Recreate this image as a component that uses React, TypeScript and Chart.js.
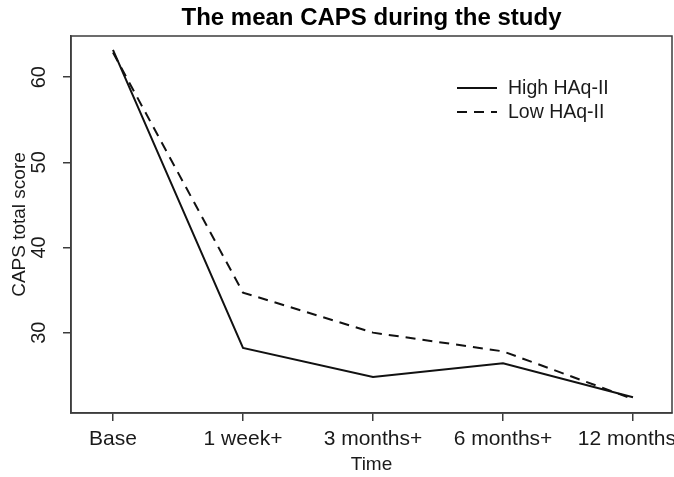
import { useEffect, useRef } from "react";
import { Chart, registerables } from "chart.js";

Chart.register(...registerables);

const categories = ["Base", "1 week+", "3 months+", "6 months+", "12 months+"];
const highValues = [63.2, 28.2, 24.8, 26.4, 22.4];
const lowValues = [62.9, 34.7, 30.0, 27.8, 22.2];
const yTicks = [30, 40, 50, 60];
const seriesNames = ["High HAq-II", "Low HAq-II"];

const FONT = "'Liberation Sans', Arial, Helvetica, sans-serif";

export default function App() {
  const ref = useRef<HTMLCanvasElement>(null);

  useEffect(() => {
    document.body.style.margin = "0";
    const canvas = ref.current;
    if (!canvas) return;

    const all = [...highValues, ...lowValues];
    const dMin = Math.min(...all);
    const dMax = Math.max(...all);
    const ext = (dMax - dMin) * 0.04;

    const boxPlugin = {
      id: "rbox",
      afterDraw(chart: any) {
        const { ctx, chartArea: a } = chart;
        ctx.save();
        ctx.strokeStyle = "#3c3c3c";
        ctx.lineWidth = 1.5;
        ctx.strokeRect(a.left, a.top, a.right - a.left, a.bottom - a.top);
        ctx.restore();
      },
    };

    const legendPlugin = {
      id: "rlegend",
      afterDatasetsDraw(chart: any) {
        const { ctx, chartArea: a } = chart;
        ctx.save();
        chart.data.datasets.forEach((ds: any, i: number) => {
          const y = a.top + 52 + i * 24;
          const x0 = a.left + 386;
          ctx.beginPath();
          ctx.setLineDash(ds.borderDash || []);
          ctx.lineWidth = ds.borderWidth;
          ctx.strokeStyle = ds.borderColor;
          ctx.moveTo(x0, y);
          ctx.lineTo(x0 + 40, y);
          ctx.stroke();
          ctx.setLineDash([]);
          ctx.fillStyle = "#1a1a1a";
          ctx.font = `19.5px ${FONT}`;
          ctx.textBaseline = "middle";
          ctx.textAlign = "left";
          ctx.fillText(ds.label, x0 + 51, y + 1);
        });
        ctx.restore();
      },
    };

    const chart = new Chart(canvas, {
      type: "line",
      data: {
        datasets: [
          {
            label: seriesNames[0],
            data: highValues.map((v, i) => ({ x: i, y: v })),
            borderColor: "#111111",
            borderWidth: 2,
            pointRadius: 0,
            fill: false,
            tension: 0,
          },
          {
            label: seriesNames[1],
            data: lowValues.map((v, i) => ({ x: i, y: v })),
            borderColor: "#111111",
            borderWidth: 2,
            borderDash: [10, 7],
            pointRadius: 0,
            fill: false,
            tension: 0,
          },
        ],
      },
      plugins: [boxPlugin, legendPlugin],
      options: {
        responsive: false,
        animation: false,
        layout: { padding: { left: 0, right: 2, top: 0, bottom: 0 } },
        plugins: {
          legend: { display: false },
          tooltip: { enabled: false },
          title: {
            display: true,
            fullSize: false,
            text: "The mean CAPS during the study",
            color: "#000",
            font: { family: FONT, size: 24, weight: "bold" },
            padding: { top: 3.5, bottom: 3.7 },
          },
        },
        scales: {
          x: {
            type: "linear",
            min: -0.323,
            max: 4.3,
            afterBuildTicks: (s: any) => {
              s.ticks = categories.map((_, i) => ({ value: i }));
            },
            afterFit: (s: any) => {
              s.height = 64;
              s.paddingLeft = 0;
              s.paddingRight = 0;
            },
            ticks: {
              autoSkip: false,
              maxRotation: 0,
              minRotation: 0,
              padding: 6,
              color: "#1a1a1a",
              font: { family: FONT, size: 21 },
              callback: (v: any) => categories[v] ?? "",
            },
            grid: {
              drawOnChartArea: false,
              drawTicks: true,
              tickLength: 8,
              color: "#3c3c3c",
              lineWidth: 1.5,
            },
            border: { display: true, color: "#3c3c3c", width: 1.5 },
            title: {
              display: true,
              text: "Time",
              color: "#1a1a1a",
              font: { family: FONT, size: 19 },
              padding: { top: 2, bottom: 1 },
            },
          },
          y: {
            type: "linear",
            min: dMin - ext,
            max: dMax + ext,
            afterBuildTicks: (s: any) => {
              s.ticks = yTicks.map((v) => ({ value: v }));
            },
            afterFit: (s: any) => {
              s.width = 71;
            },
            ticks: {
              minRotation: 90,
              maxRotation: 90,
              crossAlign: "center",
              padding: 12,
              color: "#1a1a1a",
              font: { family: FONT, size: 20 },
            },
            grid: {
              drawOnChartArea: false,
              drawTicks: true,
              tickLength: 8,
              color: "#3c3c3c",
              lineWidth: 1.5,
            },
            border: { display: true, color: "#3c3c3c", width: 1.5 },
            title: {
              display: true,
              text: "CAPS total score",
              color: "#1a1a1a",
              font: { family: FONT, size: 19 },
              padding: { top: 8, bottom: 2 },
            },
          },
        },
      },
    } as any);

    return () => chart.destroy();
  }, []);

  return (
    <div style={{ position: "absolute", left: 0, top: 0, width: 674, height: 477 }}>
      <canvas ref={ref} width={674} height={477} style={{ width: 674, height: 477 }} />
    </div>
  );
}
